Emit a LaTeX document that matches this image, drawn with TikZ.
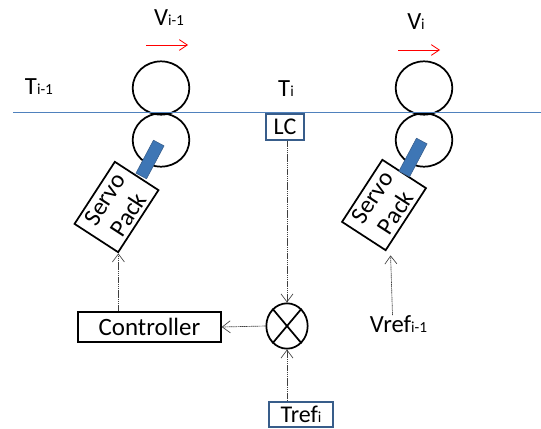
\documentclass[tikz,border=0pt]{standalone}
\usepackage{fontspec}
\setmainfont{Carlito}
\usepackage{xcolor}
\usetikzlibrary{shapes.geometric,arrows.meta}
\definecolor{beltblue}{RGB}{79, 129, 189}
\definecolor{boxblue}{RGB}{56, 93, 138}
\definecolor{rodblue}{RGB}{62, 118, 181}
\newcommand{\subtxt}[1]{{\fontsize{11.5}{12}\selectfont #1}}
\tikzset{
    label/.style={inner sep=0pt, font=\fontsize{18.5}{22}\selectfont},
    roller/.style={draw, ellipse, line width=1.3pt, minimum width=42.5pt, minimum height=40pt, inner sep=0pt},
    servo/.style={draw, rectangle, fill=white, line width=1.3pt, rotate=57, minimum width=55.5pt, minimum height=39pt, inner sep=0pt, align=center, font=\fontsize{18.5}{21}\selectfont},
    rod/.style={rectangle, fill=rodblue, draw=boxblue, rotate=62, minimum width=28pt, minimum height=9pt, inner sep=0pt},
    sensor/.style={draw=boxblue, rectangle, fill=white, line width=1.3pt, inner sep=0pt, font=\fontsize{18}{20}\selectfont},
    signal/.style={-{Straight Barb[length=6pt,width=9pt]}, gray!50!black, line width=0.5pt, dash pattern=on 1pt off 0.4pt},
    speed/.style={-{Straight Barb[length=6pt,width=8pt]}, red, line width=0.6pt}
}

\begin{document}
\begin{tikzpicture}[x=0.75pt,y=-0.75pt]
    \clip (0,0) rectangle (541,428);
    % Rollers
    \node[roller] (topa) at (161,88) {};
    \node[roller] (bota) at (161,140) {};
    \node[roller] (topb) at (424,88) {};
    \node[roller] (botb) at (424,140) {};
    % Strip
    \coordinate (stripin) at (13,112);
    \coordinate (stripout) at (541,112);
    \draw[beltblue, line width=0.6pt] (stripin) -- (stripout);
    % Servo packs
    \node[servo] (servoa) at (116.5,207) {Servo\\Pack};
    \node[servo] (servob) at (384,205) {Servo\\Pack};
    \node[rod] (roda) at (150,159.5) {};
    \node[rod] (rodb) at (413,157.5) {};
    % Labels
    \node[label] (vprev) at (169,18) {V\subtxt{i-1}};
    \node[label] (vcur) at (416,22) {V\subtxt{i}};
    \node[label] (tprev) at (39,87) {T\subtxt{i-1}};
    \node[label] (tcur) at (286,89) {T\subtxt{i}};
    \node[label] (vref) at (398.5,324) {Vref\subtxt{i-1}};
    % Speed arrows
    \coordinate (speedain) at (146,45);
    \coordinate (speedaout) at (188,45);
    \coordinate (speedbin) at (398,50);
    \coordinate (speedbout) at (440,50);
    \draw[speed] (speedain) -- (speedaout);
    \draw[speed] (speedbin) -- (speedbout);
    % Control loop
    \node[sensor, minimum width=28pt, minimum height=19pt] (lc) at (285,127) {LC};
    \node[draw, ellipse, line width=1.3pt, minimum width=31pt, minimum height=34pt, inner sep=0pt] (sum) at (287,326) {};
    \draw[line width=1.3pt] (sum.50) -- (sum.230);
    \draw[line width=1.3pt] (sum.130) -- (sum.310);
    \node[draw, rectangle, line width=1.3pt, minimum width=107pt, minimum height=22pt, inner sep=0pt, font=\fontsize{18.7}{20}\selectfont] (ctrl) at (149.5,327) {Controller};
    \node[sensor, minimum width=48pt, minimum height=18.5pt] (tref) at (301,414.5) {Tref\subtxt{i}};
    \draw[signal] (lc.south -| sum.north) -- (sum.north);
    \draw[signal] (sum.west) -- (ctrl.east);
    \draw[signal] (tref.north -| sum.south) -- (sum.south);
    \draw[signal] (ctrl.north -| servoa.south west) -- (servoa.south west);
    \draw[signal] ([xshift=-4.5pt]vref.north) -- ([xshift=3.5pt,yshift=-3pt]servob.south west);
\end{tikzpicture}
\end{document}
